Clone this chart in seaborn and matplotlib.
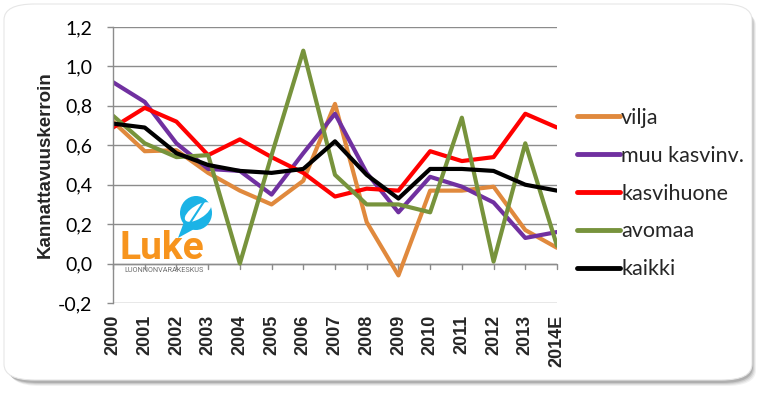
import matplotlib
matplotlib.use("Agg")
import matplotlib.pyplot as plt
import seaborn as sns
import pandas as pd
import numpy as np
from matplotlib.patches import FancyBboxPatch, Ellipse
from matplotlib.ticker import FuncFormatter, FixedLocator

years = ["2000", "2001", "2002", "2003", "2004", "2005", "2006", "2007",
         "2008", "2009", "2010", "2011", "2012", "2013", "2014E"]
vilja = [0.72, 0.57, 0.575, 0.46, 0.37, 0.30, 0.42, 0.81, 0.21, -0.06, 0.37, 0.37, 0.39, 0.17, 0.08]
muu_kasvinv = [0.92, 0.82, 0.61, 0.48, 0.47, 0.35, 0.56, 0.76, 0.46, 0.26, 0.44, 0.39, 0.31, 0.13, 0.16]
kasvihuone = [0.69, 0.79, 0.72, 0.55, 0.63, 0.54, 0.46, 0.34, 0.38, 0.37, 0.57, 0.52, 0.54, 0.76, 0.69]
avomaa = [0.75, 0.61, 0.54, 0.55, 0.00, 0.55, 1.08, 0.45, 0.30, 0.30, 0.26, 0.74, 0.01, 0.61, 0.09]
kaikki = [0.71, 0.69, 0.56, 0.50, 0.47, 0.46, 0.48, 0.62, 0.45, 0.33, 0.48, 0.48, 0.47, 0.40, 0.37]

series_names = ["vilja", "muu kasvinv.", "kasvihuone", "avomaa", "kaikki"]
series_vals = [vilja, muu_kasvinv, kasvihuone, avomaa, kaikki]
colors = ["#E0893D", "#7030A0", "#FF0000", "#77933C", "#000000"]

rows = []
for name, vals in zip(series_names, series_vals):
    for i, (y, v) in enumerate(zip(years, vals)):
        rows.append({"idx": i, "year": y, "value": v, "sarja": name})
df = pd.DataFrame(rows)

sns.set_style("white")
plt.rcParams['font.family'] = ['Lato', 'DejaVu Sans']

fig = plt.figure(figsize=(7.66, 3.96), dpi=100)
W, H = 766, 396

# rounded frame with shadow
for k, a in enumerate([0.10, 0.15, 0.22, 0.35]):
    off = 4 - k
    sh = FancyBboxPatch(((6 + off) / W, (1 - (382 + off) / H)), (750 - 4) / W, (376) / H,
                        boxstyle="round,pad=0,rounding_size=0.04", transform=fig.transFigure,
                        facecolor="#7f7f7f", edgecolor="none", alpha=a, zorder=-3)
    fig.patches.append(sh)
box = FancyBboxPatch((4 / W, 1 - 380 / H), 748 / W, 376 / H,
                     boxstyle="round,pad=0,rounding_size=0.04", transform=fig.transFigure,
                     facecolor="white", edgecolor="#e6e6e6", linewidth=0.8, zorder=-2)
fig.patches.append(box)

ax = fig.add_axes([113 / W, 1 - 303 / H, (557 - 113) / W, (303 - 27) / H])
ax.set_facecolor("none")

sns.lineplot(data=df, x="idx", y="value", hue="sarja", palette=colors,
             hue_order=series_names, linewidth=3.0, ax=ax, legend=True,
             sort=False, estimator=None)

ax.set_xlim(0, 14)
ax.set_ylim(-0.2, 1.2)
ax.yaxis.set_major_locator(FixedLocator(np.arange(-0.2, 1.21, 0.2)))
ax.yaxis.set_major_formatter(FuncFormatter(lambda v, p: f"{v:.1f}".replace(".", ",").replace("-0,0", "0,0")))
ax.grid(axis="y", color="#8c8c8c", linewidth=1.0)
ax.set_axisbelow(True)
for s in ["top", "right", "bottom"]:
    ax.spines[s].set_visible(False)
ax.spines["left"].set_color("#8c8c8c")
ax.spines["left"].set_linewidth(1.0)

# x axis line at zero
ax.axhline(0, color="#8c8c8c", linewidth=1.0, zorder=1)
ax.set_xticks([])
for i in range(len(years)):
    ax.plot([i, i], [0, -0.025], color="#8c8c8c", linewidth=1.0, clip_on=False, zorder=1)
    ax.text(i, -0.258, years[i], rotation=90, ha="center", va="top",
            fontsize=13, fontweight="bold", family=["Liberation Sans", "DejaVu Sans"],
            transform=ax.transData)

ax.tick_params(axis="y", left=True, length=4, width=1.0, color="#8c8c8c", direction="out",
               labelsize=14, pad=11, labelcolor="#000000")
for lab in ax.get_yticklabels():
    lab.set_fontfamily(["Lato", "DejaVu Sans"])
ax.set_xlabel("")
ax.set_ylabel("Kannattavuuskerroin", fontsize=13.5, fontweight="bold",
              family=["Liberation Sans", "DejaVu Sans"])
ax.yaxis.set_label_coords(-0.153, 0.5)
ax.yaxis.label.set_va("center")

leg = ax.legend(loc="upper left", bbox_to_anchor=(1.045, 0.707), frameon=False,
                fontsize=15.5, handlelength=2.0, handletextpad=0.05,
                labelspacing=0.83, borderaxespad=0, borderpad=0)
for line in leg.get_lines():
    line.set_linewidth(3.5)

# Luke logo
fig.text(119 / W, 1 - 259 / H, "Luke", color="#F7941D", fontsize=28, fontweight="bold",
         family=["Roboto", "DejaVu Sans"], ha="left", va="baseline", zorder=5)
fig.text(124 / W, 1 - 272 / H, "LUONNONVARAKESKUS", color="#6d6d6d", fontsize=5.2,
         family=["Roboto", "DejaVu Sans"], ha="left", va="baseline", zorder=5)
leaf = Ellipse((196 / W, 1 - 213 / H), 32 / W, 34 / H, transform=fig.transFigure,
               facecolor="#1BB3E6", edgecolor="none", zorder=5)
fig.patches.append(leaf)
tail = plt.Polygon([(184 / W, 1 - 222 / H), (178 / W, 1 - 238 / H), (196 / W, 1 - 228 / H)],
                   closed=True, transform=fig.transFigure, facecolor="#1BB3E6",
                   edgecolor="none", zorder=5)
fig.patches.append(tail)
inner = Ellipse((198 / W, 1 - 212 / H), 18 / W, 22 / H, angle=-30, transform=fig.transFigure,
                facecolor="white", edgecolor="none", zorder=6)
fig.patches.append(inner)
fig.lines.append(plt.Line2D([188 / W, 205 / W], [1 - 226 / H, 1 - 200 / H],
                            transform=fig.transFigure, color="#1BB3E6", linewidth=1.5, zorder=7))

fig.savefig("out.png", dpi=100)
